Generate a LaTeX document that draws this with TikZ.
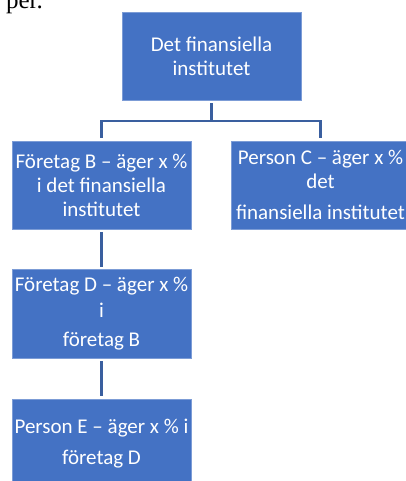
\documentclass[tikz,border=0pt]{standalone}
\usepackage{fontspec}
\setmainfont{Carlito}
\newfontfamily\docserif{Liberation Serif}
\definecolor{boxblue}{HTML}{4472C4}
\definecolor{lineblue}{HTML}{3A5F9F}
\tikzset{
  orgbox/.style={fill=boxblue, draw=boxblue!70!white, line width=0.5pt, text=white,
    minimum width=179pt, minimum height=88pt, inner sep=0pt, align=center,
    font=\fontsize{21}{24}\selectfont},
  conn/.style={draw=lineblue, line width=2.2pt}
}
\begin{document}
\begin{tikzpicture}[x=1pt,y=-1pt]
\path[use as bounding box, clip] (0,0) rectangle (406,481);
\node[anchor=base east, inner sep=0pt, font=\docserif\fontsize{25}{27}\selectfont] (frag) at (43,9) {per.};
\node[orgbox] (top) at (211.5,56) {Det finansiella\\institutet};
\node[orgbox] (B) at (101.5,185) {Företag B – äger x \%\\i det finansiella\\institutet};
\node[orgbox] (C) at (320.5,185) {Person C – äger x \%\\det\\[7pt]finansiella institutet};
\node[orgbox, minimum height=89pt] (D) at (101.5,313.5) {Företag D – äger x \%\\[2pt]i\\[5pt]företag B};
\node[orgbox, minimum height=89pt] (E) at (101.5,443.5) {Person E – äger x \% i\\[7pt]företag D};
\coordinate (bus) at (0,121);
\draw[conn] ([yshift=-3pt]top.south) -- (top.south |- bus);
\draw[conn] ([yshift=3pt]B.north) -- (B.north |- bus) -- (C.north |- bus) -- ([yshift=3pt]C.north);
\draw[conn] ([yshift=-3pt]B.south) -- ([yshift=2pt]D.north);
\draw[conn] ([yshift=-3pt]D.south) -- ([yshift=3pt]E.north);
\end{tikzpicture}
\end{document}
